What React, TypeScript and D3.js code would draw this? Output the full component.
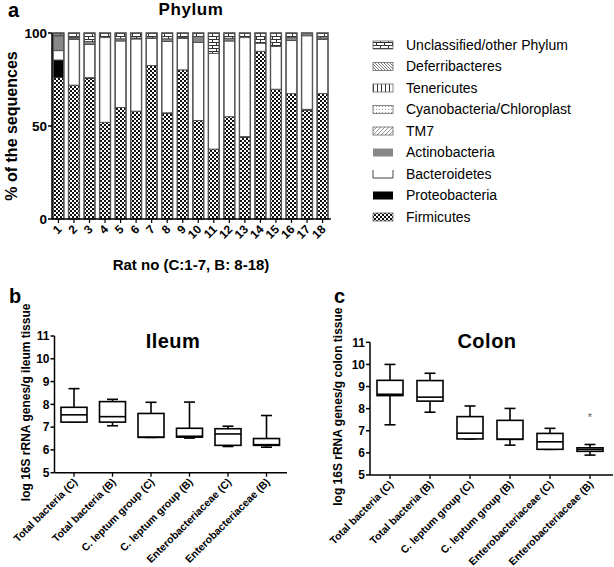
import React from "react";
import * as d3 from "d3";

const rats = ["1","2","3","4","5","6","7","8","9","10","11","12","13","14","15","16","17","18"];
const firmicutes = [76, 72, 75.5, 52, 60, 58, 82.5, 56.8, 80.2, 53, 37.6, 55, 43.8, 90.2, 69.8, 67.4, 58.5, 67.4];
const proteobacteria = [9.5, 0, 0.5, 0, 0, 0, 0, 0.3, 0, 0, 0, 0, 0.5, 0, 0, 0, 0.5, 0];
const bacteroidetes = [5, 24.6, 17.9, 45.5, 35.7, 38.8, 14.6, 38.3, 16.9, 42, 51.5, 40.7, 53.2, 4.3, 22.9, 28.5, 39.5, 29.2];
const actinobacteria = [8, 0.8, 1.5, 0, 1.2, 0.5, 0.3, 1.5, 0.5, 3.2, 0, 1.5, 0, 0, 0, 1.6, 1.5, 0.8];
const tm7 = [0.5, 0.5, 0, 0, 0, 0, 0, 0, 0, 0, 0, 0, 0, 0, 0, 0, 0, 0];
const cyanobacteria = [0, 0, 0, 0, 0, 0, 0, 0, 0, 0, 0, 0, 0, 0, 0, 0, 0, 0];
const tenericutes = [0, 0, 0, 0, 0, 0, 0, 0, 0, 0, 0, 0, 0, 0, 0, 0, 0, 0];
const deferribacteres = [0, 0, 0, 0, 0, 0, 0, 0, 0, 0, 0, 0, 0, 0, 0, 0, 0, 0];
const unclassified = [1, 2.1, 4.6, 2.5, 3.1, 2.7, 2.6, 3.1, 2.4, 1.8, 10.9, 2.8, 2.5, 5.5, 7.3, 2.5, 0, 2.6];
const phylumTicks = [0, 50, 100];

const boxCats = ["Total bacteria (C)", "Total bacteria (B)", "C. leptum group (C)", "C. leptum group (B)", "Enterobacteriaceae (C)", "Enterobacteriaceae (B)"];
const ileumMin = [7.22, 7.06, 6.55, 6.52, 6.15, 6.12];
const ileumQ1 = [7.22, 7.22, 6.55, 6.56, 6.2, 6.2];
const ileumMed = [7.54, 7.46, 6.56, 6.6, 6.7, 6.23];
const ileumQ3 = [7.87, 8.12, 7.6, 6.95, 6.93, 6.5];
const ileumMax = [8.69, 8.22, 8.09, 8.1, 7.04, 7.51];
const colonMin = [7.27, 7.84, 6.63, 6.35, 6.16, 5.9];
const colonQ1 = [8.59, 8.34, 6.63, 6.61, 6.16, 6.07];
const colonMed = [8.65, 8.52, 6.89, 6.62, 6.5, 6.16];
const colonQ3 = [9.28, 9.27, 7.64, 7.47, 6.88, 6.23];
const colonMax = [10.0, 9.6, 8.12, 8.01, 7.11, 6.38];
const colonOutlierCat = ["Enterobacteriaceae (B)"];
const colonOutlierVal = [7.79];
const boxTicks = [5, 6, 7, 8, 9, 10, 11];

const FONT = "'Liberation Sans', Arial, sans-serif";

const phyla = [
  { key: "Firmicutes", values: firmicutes, fill: "url(#pFirm)" },
  { key: "Proteobacteria", values: proteobacteria, fill: "#000" },
  { key: "Bacteroidetes", values: bacteroidetes, fill: "#fff" },
  { key: "Actinobacteria", values: actinobacteria, fill: "#888" },
  { key: "TM7", values: tm7, fill: "url(#pTM7)" },
  { key: "Cyanobacteria/Chloroplast", values: cyanobacteria, fill: "url(#pCyano)" },
  { key: "Tenericutes", values: tenericutes, fill: "url(#pTener)" },
  { key: "Deferribacteres", values: deferribacteres, fill: "url(#pDefer)" },
  { key: "Unclassified/other Phylum", values: unclassified, fill: "url(#pBrick)" },
];

function PhylumPanel() {
  const x = d3.scaleBand<string>().domain(rats).range([53, 328]).paddingInner(0.3).paddingOuter(0);
  const y = d3.scaleLinear().domain([0, 100]).range([219, 33]);
  const table = rats.map((r, i) => {
    const o: any = { rat: r };
    phyla.forEach((p) => (o[p.key] = p.values[i]));
    return o;
  });
  const stack = d3.stack<any>().keys(phyla.map((p) => p.key))(table);
  const legendX = 373;
  const legendY0 = 45;
  const legendStep = 21.5;
  const legendOrder = [...phyla].reverse();
  return (
    <g>
      <text x={8} y={17} fontSize={20} fontWeight="bold" fontFamily={FONT}>a</text>
      <text x={191} y={15} fontSize={17} fontWeight="bold" fontFamily={FONT} textAnchor="middle" letterSpacing={0.6}>Phylum</text>
      {stack.map((s, si) => (
        <g key={phyla[si].key}>
          {s.map((d, i) =>
            d[1] - d[0] > 0 ? (
              <rect key={i} x={x(rats[i])} width={x.bandwidth()} y={y(d[1])} height={y(d[0]) - y(d[1])}
                fill={phyla[si].fill} stroke="#444" strokeWidth={0.8} />
            ) : null
          )}
        </g>
      ))}
      {rats.map((r) => (
        <rect key={"o" + r} x={x(r)} width={x.bandwidth()} y={y(100)} height={y(0) - y(100)} fill="none" stroke="#555" strokeWidth={1.4} />
      ))}
      <line x1={52} x2={52} y1={y(100)} y2={y(0)} stroke="#000" strokeWidth={1.5} />
      <line x1={52} x2={331} y1={y(0)} y2={y(0)} stroke="#000" strokeWidth={1.5} />
      {phylumTicks.map((t) => (
        <g key={t}>
          <line x1={48} x2={52} y1={y(t)} y2={y(t)} stroke="#000" strokeWidth={1.5} />
          <text x={47} y={y(t)} dy="0.35em" textAnchor="end" fontSize={13.5} fontWeight="bold" fontFamily={FONT}>{t}</text>
        </g>
      ))}
      {rats.map((r) => {
        const cx = (x(r) as number) + x.bandwidth() / 2;
        return (
          <g key={"t" + r}>
            <line x1={cx} x2={cx} y1={y(0)} y2={y(0) + 4} stroke="#000" strokeWidth={1.2} />
            <text transform={`translate(${cx + 4},${y(0) + 11}) rotate(-45)`} textAnchor="end" fontSize={12} fontWeight="bold" fontFamily={FONT}>{r}</text>
          </g>
        );
      })}
      <text transform={`translate(17,${(y(0) + y(100)) / 2}) rotate(-90)`} textAnchor="middle" fontSize={16} fontWeight="bold" fontFamily={FONT}>% of the sequences</text>
      <text x={191} y={270} textAnchor="middle" fontSize={15} fontWeight="bold" fontFamily={FONT}>Rat no (C:1-7, B: 8-18)</text>
      {legendOrder.map((p, i) => {
        const cy = legendY0 + i * legendStep;
        return (
          <g key={p.key}>
            {p.key === "Bacteroidetes" ? (
              <path d={`M${legendX},${cy - 4}V${cy + 4}H${legendX + 20}V${cy - 4}`} fill="none" stroke="#444" strokeWidth={1} />
            ) : (
              <rect x={legendX} y={cy - 4} width={20} height={8} fill={p.fill} stroke={p.fill === "#000" || p.fill === "#888" ? "none" : "#666"} strokeWidth={0.8} />
            )}
            <text x={406} y={cy} dy="0.35em" fontSize={14} fontFamily={FONT}>{p.key}</text>
          </g>
        );
      })}
    </g>
  );
}

function BoxPanel(props: {
  letter: string; title: string; ylabel: string; axisX: number; axisEnd: number; yTop: number; yBot: number;
  first: number; last: number; mins: number[]; q1: number[]; med: number[]; q3: number[]; maxs: number[];
  outCats?: string[]; outVals?: number[]; letterX: number; titleX: number; ylabelX: number;
}) {
  const p = props;
  const x = d3.scalePoint<string>().domain(boxCats).range([p.first, p.last]);
  const y = d3.scaleLinear().domain([5, 11]).range([p.yBot, p.yTop]);
  const bw = 26;
  const cap = 11;
  return (
    <g>
      <text x={p.letterX} y={303} fontSize={20} fontWeight="bold" fontFamily={FONT}>{p.letter}</text>
      <text x={p.titleX} y={348} fontSize={20} fontWeight="bold" fontFamily={FONT} textAnchor="middle" letterSpacing={0.5}>{p.title}</text>
      <line x1={p.axisX} x2={p.axisX} y1={y(11)} y2={y(5)} stroke="#000" strokeWidth={1.5} />
      <line x1={p.axisX} x2={p.axisEnd} y1={y(5)} y2={y(5)} stroke="#000" strokeWidth={1.5} />
      {boxTicks.map((t) => (
        <g key={t}>
          <line x1={p.axisX - 4} x2={p.axisX} y1={y(t)} y2={y(t)} stroke="#000" strokeWidth={1.5} />
          <text x={p.axisX - 5} y={y(t)} dy="0.35em" textAnchor="end" fontSize={12} fontWeight="bold" fontFamily={FONT}>{t}</text>
        </g>
      ))}
      <text transform={`translate(${p.ylabelX},${(y(5) + y(11)) / 2 - 2}) rotate(-90)`} textAnchor="middle" fontSize={12} fontWeight="bold" fontFamily={FONT}>{p.ylabel}</text>
      {boxCats.map((c, i) => {
        const cx = x(c) as number;
        return (
          <g key={c}>
            <line x1={cx} x2={cx} y1={y(5)} y2={y(5) + 4} stroke="#000" strokeWidth={1.3} />
            <text transform={`translate(${cx + 4},${y(5) + 10}) rotate(-45)`} textAnchor="end" fontSize={10.5} fontWeight="bold" fontFamily={FONT}>{c}</text>
            <line x1={cx} x2={cx} y1={y(p.maxs[i])} y2={y(p.q3[i])} stroke="#000" strokeWidth={1.6} />
            <line x1={cx} x2={cx} y1={y(p.q1[i])} y2={y(p.mins[i])} stroke="#000" strokeWidth={1.6} />
            <line x1={cx - cap / 2} x2={cx + cap / 2} y1={y(p.maxs[i])} y2={y(p.maxs[i])} stroke="#000" strokeWidth={1.6} />
            <line x1={cx - cap / 2} x2={cx + cap / 2} y1={y(p.mins[i])} y2={y(p.mins[i])} stroke="#000" strokeWidth={1.6} />
            <rect x={cx - bw / 2} width={bw} y={y(p.q3[i])} height={y(p.q1[i]) - y(p.q3[i])} fill="#fff" stroke="#000" strokeWidth={1.6} />
            <line x1={cx - bw / 2} x2={cx + bw / 2} y1={y(p.med[i])} y2={y(p.med[i])} stroke="#000" strokeWidth={1.6} />
          </g>
        );
      })}
      {(p.outCats || []).map((c, i) => (
        <text key={"out" + i} x={x(c) as number} y={y((p.outVals as number[])[i])} dy="0.7em" textAnchor="middle" fontSize={11} fill="#666" fontFamily={FONT}>*</text>
      ))}
    </g>
  );
}

export default function App() {
  return (
    <svg width={614} height={567} style={{ position: "absolute", left: 0, top: 0, background: "#fff" }}>
      <defs>
        <pattern id="pFirm" patternUnits="userSpaceOnUse" width={4} height={4}>
          <rect width={4} height={4} fill="#fff" />
          <rect width={2} height={2} fill="#111" />
          <rect x={2} y={2} width={2} height={2} fill="#111" />
        </pattern>
        <pattern id="pBrick" patternUnits="userSpaceOnUse" width={8} height={6}>
          <rect width={8} height={6} fill="#fff" />
          <path d="M0,0.5H8M0,3.5H8M0.5,0.5V3.5M4.5,3.5V6.5" stroke="#333" strokeWidth={1} fill="none" />
        </pattern>
        <pattern id="pTM7" patternUnits="userSpaceOnUse" width={4} height={4}>
          <rect width={4} height={4} fill="#fff" />
          <path d="M0,4L4,0M-1,1L1,-1M3,5L5,3" stroke="#777" strokeWidth={0.8} />
        </pattern>
        <pattern id="pCyano" patternUnits="userSpaceOnUse" width={3} height={3}>
          <rect width={3} height={3} fill="#fff" />
          <rect x={1} y={1} width={1} height={1} fill="#999" />
        </pattern>
        <pattern id="pTener" patternUnits="userSpaceOnUse" width={4} height={4}>
          <rect width={4} height={4} fill="#fff" />
          <path d="M1.5,0V4" stroke="#333" strokeWidth={1} />
        </pattern>
        <pattern id="pDefer" patternUnits="userSpaceOnUse" width={3} height={3}>
          <rect width={3} height={3} fill="#fff" />
          <path d="M0,0L3,3M-1,2L1,4M2,-1L4,1" stroke="#555" strokeWidth={0.8} />
        </pattern>
      </defs>
      <rect width={614} height={567} fill="#fff" />
      <PhylumPanel />
      <BoxPanel letter="b" title="Ileum" ylabel="log 16S rRNA genes/g ileum tissue" axisX={54.5} axisEnd={287}
        yTop={336} yBot={472.7} first={74} last={266.5}
        mins={ileumMin} q1={ileumQ1} med={ileumMed} q3={ileumQ3} maxs={ileumMax}
        letterX={9} titleX={173} ylabelX={30} />
      <BoxPanel letter="c" title="Colon" ylabel="log 16S rRNA genes/g colon tissue" axisX={370} axisEnd={613}
        yTop={342.3} yBot={475} first={390} last={590}
        mins={colonMin} q1={colonQ1} med={colonMed} q3={colonQ3} maxs={colonMax}
        outCats={colonOutlierCat} outVals={colonOutlierVal}
        letterX={334} titleX={487} ylabelX={342} />
    </svg>
  );
}
